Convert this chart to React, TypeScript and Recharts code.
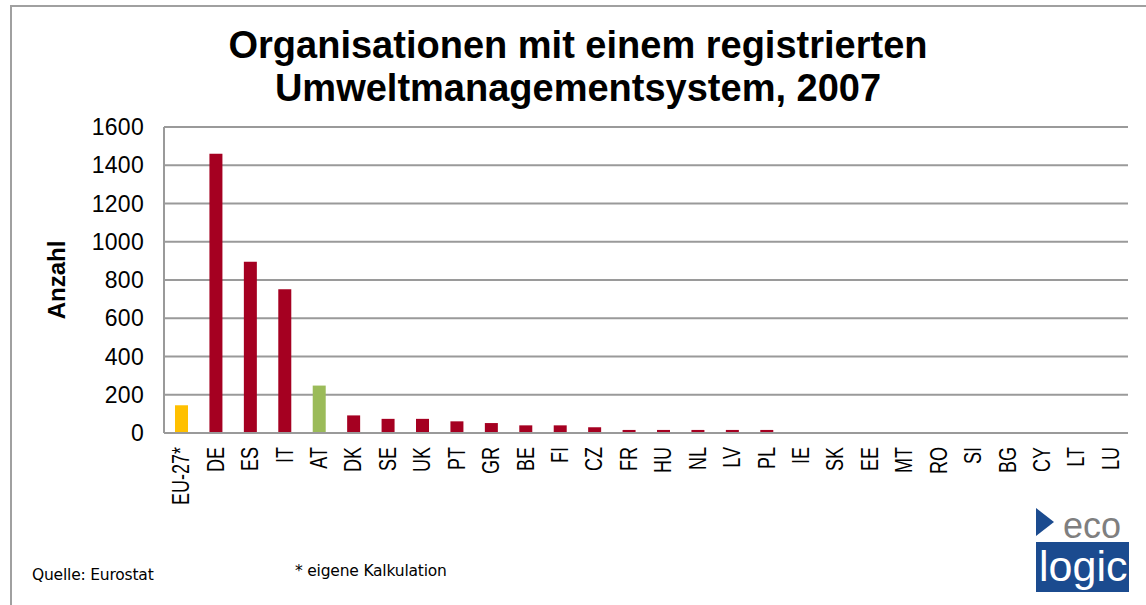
import { BarChart, Bar, XAxis, YAxis, CartesianGrid, Cell } from 'recharts';

const countries = ['EU-27*', 'DE', 'ES', 'IT', 'AT', 'DK', 'SE', 'UK', 'PT', 'GR', 'BE', 'FI', 'CZ', 'FR', 'HU', 'NL', 'LV', 'PL', 'IE', 'SK', 'EE', 'MT', 'RO', 'SI', 'BG', 'CY', 'LT', 'LU'];
const counts = [145, 1460, 895, 752, 248, 92, 74, 74, 61, 52, 40, 40, 30, 16, 16, 16, 16, 16, 0, 0, 0, 0, 0, 0, 0, 0, 0, 0];
const yTicks = [0, 200, 400, 600, 800, 1000, 1200, 1400, 1600];

const RED = '#A50021';
const YELLOW = '#FFC000';
const GREEN = '#9BBB59';

const data = countries.map((c, i) => ({ country: c, value: counts[i] }));

const barColor = (c: string) => (c === 'EU-27*' ? YELLOW : c === 'AT' ? GREEN : RED);

function CountryTick({ x, y, payload }: any) {
  return (
    <text
      transform={`translate(${x + 8},${y + 6}) rotate(-90) scale(1,1.3)`}
      textAnchor="end"
      fontSize={18}
      fontFamily="Liberation Sans, Arial, sans-serif"
      fill="#000"
    >
      {payload.value}
    </text>
  );
}

export default function App() {
  return (
    <div style={{ position: 'fixed', left: 0, top: 0, width: 1146, height: 605, background: '#fff', fontFamily: 'Liberation Sans, Arial, sans-serif' }}>
      <div style={{ position: 'absolute', left: 10, top: 5, width: 1150, height: 620, border: '2px solid #a0a0a0', boxSizing: 'border-box' }} />
      <div style={{ position: 'absolute', left: 0, top: 24, width: 1156, textAlign: 'center', fontWeight: 'bold', fontSize: 38, lineHeight: '43px', color: '#000' }}>
        Organisationen mit einem registrierten
        <br />
        Umweltmanagementsystem, 2007
      </div>
      <div style={{ position: 'absolute', left: 0, top: 0 }}>
        <BarChart width={1146} height={605} data={data} margin={{ top: 127, right: 18, bottom: 142, left: 0 }} barSize={13}>
          <CartesianGrid vertical={false} stroke="#9a9a9a" strokeWidth={2} />
          <XAxis dataKey="country" height={30} interval={0} tick={<CountryTick />} tickLine={false} axisLine={{ stroke: '#9a9a9a', strokeWidth: 2 }} />
          <YAxis
            domain={[0, 1600]}
            ticks={yTicks}
            width={164}
            tickLine={false}
            tickMargin={14}
            axisLine={{ stroke: '#9a9a9a', strokeWidth: 2 }}
            tick={{ fill: '#000', fontSize: 23, fontFamily: 'Liberation Sans, Arial, sans-serif', letterSpacing: 0.3 }}
            label={{ value: 'Anzahl', angle: -90, position: 'insideLeft', offset: 56, style: { fontWeight: 'bold', fontSize: 24, fill: '#000', textAnchor: 'middle' } }}
          />
          <Bar dataKey="value" isAnimationActive={false}>
            {data.map((d, i) => (
              <Cell key={i} fill={barColor(d.country)} />
            ))}
          </Bar>
        </BarChart>
      </div>
      <div style={{ position: 'absolute', left: 32, top: 566, fontSize: 15.5, color: '#000', fontFamily: 'DejaVu Sans, sans-serif', letterSpacing: -0.2 }}>Quelle: Eurostat</div>
      <div style={{ position: 'absolute', left: 295, top: 562, fontSize: 15.5, color: '#000', fontFamily: 'DejaVu Sans, sans-serif', letterSpacing: -0.2 }}>* eigene Kalkulation</div>
      <svg style={{ position: 'absolute', left: 1030, top: 500 }} width={110} height={100}>
        <polygon points="6,8 6,36 24,22" fill="#1B4B8F" />
        <text x={33} y={38} fontSize={36} fill="#7f7f7f" fontFamily="Liberation Sans Narrow, Liberation Sans, Arial, sans-serif">eco</text>
        <rect x={6} y={42} width={93} height={50} fill="#1B4B8F" />
        <text x={9} y={81} fontSize={43} fill="#fff" fontFamily="Liberation Sans Narrow, Liberation Sans, Arial, sans-serif">logic</text>
      </svg>
    </div>
  );
}
